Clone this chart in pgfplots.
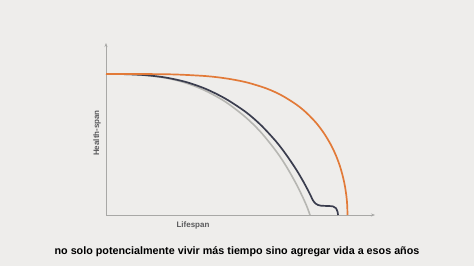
\documentclass[border=0pt]{standalone}
\usepackage{pgfplots}
\pgfplotsset{compat=1.18}
\usetikzlibrary{arrows.meta}
\usepackage{fontspec}
\setmainfont{Liberation Sans}
\definecolor{bg}{RGB}{238,237,235}
\definecolor{orangec}{RGB}{226,122,56}
\definecolor{darkc}{RGB}{58,61,78}
\definecolor{greyc}{RGB}{182,182,178}
\definecolor{axc}{RGB}{168,168,166}
\definecolor{labc}{RGB}{90,90,92}
\begin{document}
\begin{tikzpicture}
\fill[bg] (0,0) rectangle (474bp,266bp);
\begin{axis}[
  at={(106bp,51bp)}, anchor=south west,
  scale only axis, width=269bp, height=172bp,
  xmin=0, xmax=269, ymin=0, ymax=172,
  axis lines=left,
  axis line style={axc, line width=0.9pt, -{Stealth[length=4bp,width=3bp]}},
  xtick=\empty, ytick=\empty,
  clip=false,
]
\addplot[greyc, line width=1.6pt, smooth, tension=0.5] coordinates {
(0,141)(20,140.8)(40,139.6)(60,137.0)(80,132.0)(100,124.0)(120,112.8)(140,97.4)(155,82.6)(170,64.0)(180,49.1)(190,31.5)(197,17.3)(201,8.2)(204,0)};
\addplot[darkc, line width=1.7pt, smooth, tension=0.5] coordinates {
(0,141)(20,140.8)(40,139.8)(60,137.4)(80,133.0)(100,126.0)(120,116.0)(140,102.8)(155,89.8)(170,73.6)(180,60.6)(190,45.8)(197,34.0)(202,24.7)(205,18.7)(207,14.6)(209.5,11.5)(212,10)(215,9.3)(222,9)(227,8.6)(230,6.8)(231.5,3.5)(232,0)};
\addplot[orangec, line width=1.7pt, smooth, tension=0.5] coordinates {
(0,141)(40,140.95)(70,140.5)(100,138.9)(120,136.6)(140,132.8)(160,126.7)(175,120.0)(190,110.7)(200,102.6)(210,92.3)(218,81.7)(225,70.0)(230,59.4)(234,48.6)(237,37.9)(239,28.5)(240.5,18.1)(241.2,9.9)(241.5,0)};
\end{axis}
\node[font=\fontsize{8}{9}\selectfont\bfseries, text=labc] at (193bp,41bp) {Lifespan};
\node[font=\fontsize{8}{9}\selectfont\bfseries, text=labc, rotate=90] at (97bp,133bp) {Health-span};
\node[font=\fontsize{10.8}{12}\selectfont\bfseries] at (237bp,14bp) {no solo potencialmente vivir más tiempo sino agregar vida a esos años};
\end{tikzpicture}
\end{document}
